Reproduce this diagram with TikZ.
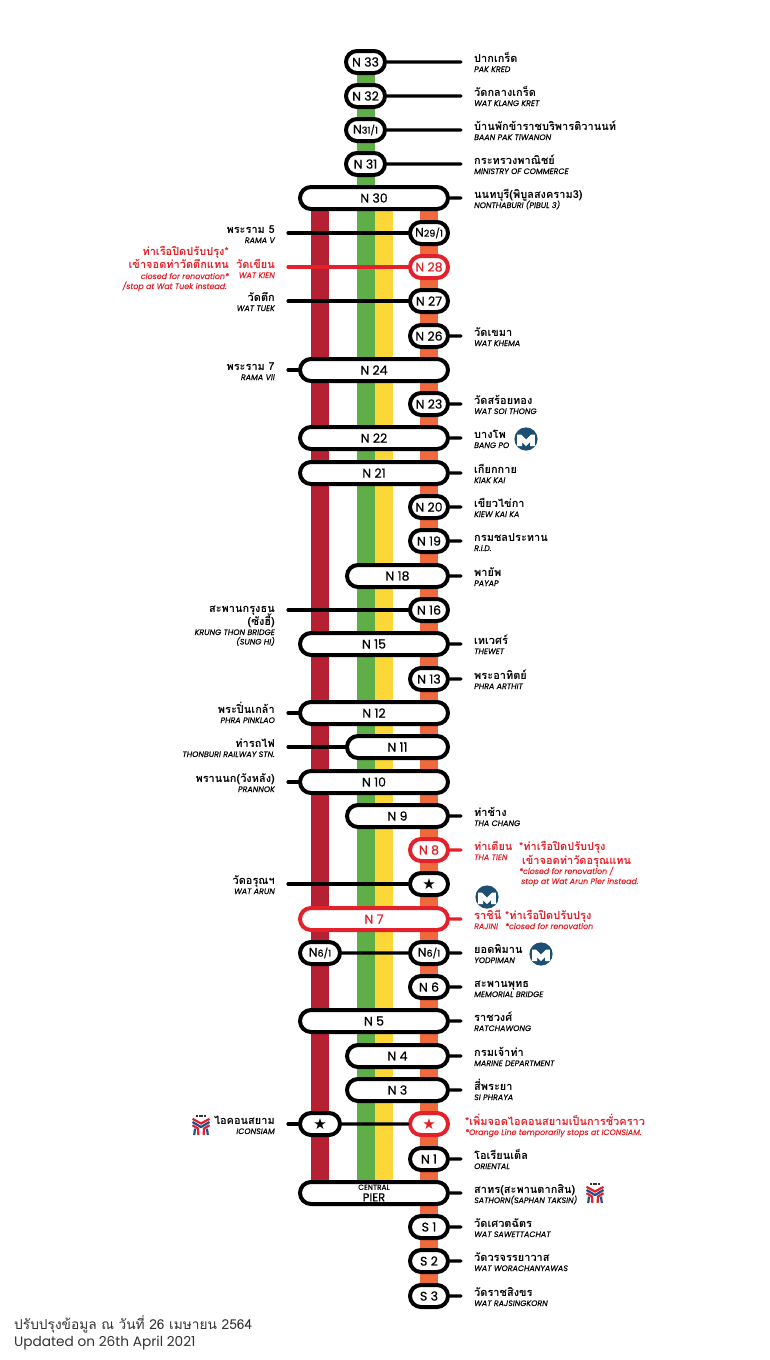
\documentclass[tikz,border=0pt]{standalone}
\usepackage{fontspec}
\usepackage{tikz}
\usetikzlibrary{shapes, shapes.misc, positioning, calc}

\setmainfont{Poppins}
\newfontfamily\thaifont[Script=Thai]{Loma}
\newfontfamily\pillfont[FakeBold=0.5]{Poppins}
\newfontfamily\symfont{DejaVu Sans}
\newcommand{\sm}[1]{{\fontsize{9.5}{10}\selectfont #1}}

\definecolor{lineRed}{HTML}{B52032}
\definecolor{lineGreen}{HTML}{5FAE47}
\definecolor{lineYellow}{HTML}{FBD737}
\definecolor{lineOrange}{HTML}{F0693D}
\definecolor{alert}{HTML}{E4202A}
\definecolor{metroBlue}{HTML}{1D4F73}
\definecolor{btsBlue}{HTML}{1F4E8C}
\definecolor{notegray}{HTML}{333333}

\tikzset{
  pill/.style={rounded rectangle, rounded rectangle arc length=180, draw=black, line width=4pt, fill=white, minimum height=22pt, inner sep=0pt, font=\pillfont\fontsize{12.5}{13}\selectfont},
  pillred/.style={pill, draw=alert, text=alert},
  bar/.style={line width=18pt},
  link/.style={line width=3.2pt, line cap=round},
  linkred/.style={link, draw=alert},
  lblth/.style={inner sep=0pt, font=\thaifont\bfseries\fontsize{11}{11}\selectfont},
  lblen/.style={inner sep=0pt, font=\itshape\addfontfeature{FakeBold=0.25}\fontsize{7.9}{8}\selectfont},
  metro/.pic={
    \fill[metroBlue] (0,0) circle (11.6);
    \fill[white] (-8.8,7.2) -- (-8.8,-4.5) -- (-5,-4.5) -- (0,0.5) -- (5,-4.5) -- (8.8,-4.5) -- (8.8,7.2) -- (4,7.2) -- (4,3) -- (0,7.2) -- (-4,3) -- (-4,7.2) -- cycle;
  },
  bts/.pic={
    \draw[notegray, line width=1.4pt, dash pattern=on 2pt off 0.6pt] (-5,-9.2) -- (5,-9.2);
    \draw[alert, line width=2.2pt] (-8.5,-6.2) -- (0,-1.5) -- (8.5,-6.2);
    \draw[btsBlue, line width=2.2pt] (-8.5,-3) -- (0,2) -- (8.5,-3);
    \draw[alert, line width=2.2pt] (-8.5,0.2) -- (-3,3.5) -- (-2.6,10);
    \draw[alert, line width=2.2pt] (8.5,0.2) -- (3,3.5) -- (2.6,10);
    \draw[btsBlue, line width=2.2pt] (-6.8,10) -- (-6,3.6);
    \draw[btsBlue, line width=2.2pt] (6.8,10) -- (6,3.6);
  }
}

\begin{document}
\begin{tikzpicture}[x=1pt, y=-1pt]
    \useasboundingbox (0,0) rectangle (769,1360);

    % Coloured lines go in first, the stops sit on top of them
    \coordinate (redTop) at (320,198);    \coordinate (redEnd) at (320,1180);
    \coordinate (greenTop) at (366,62);   \coordinate (greenEnd) at (366,1180);
    \coordinate (yellowTop) at (384,198); \coordinate (yellowEnd) at (384,1180);
    \coordinate (orangeTop) at (429,198); \coordinate (orangeEnd) at (429,1296);
    \draw[bar, lineRed] (redTop) -- (redEnd);
    \draw[bar, lineGreen] (greenTop) -- (greenEnd);
    \draw[bar, lineYellow] (yellowTop) -- (yellowEnd);
    \draw[bar, lineOrange] (orangeTop) -- (orangeEnd);

    % Stops: name/centre/width/row/style/text
    \foreach \id/\cx/\w/\y/\sty/\txt in {
        n33/365.5/39/62/pill/N 33, n32/365.5/39/96/pill/N 32,
        n311/365.5/39/130/pill/{N\sm{31/1}}, n31/365.5/39/164/pill/N 31,
        n30/374/148/198/pill/N 30, n291/429/38/233/pill/{N\sm{29/1}},
        n28/429/38/267/pillred/N 28, n27/429/38/301/pill/N 27,
        n26/429/38/336/pill/N 26, n24/374/148/370/pill/N 24,
        n23/429/38/404/pill/N 23, n22/374/148/438/pill/N 22,
        n21/374/148/473/pill/N 21, n20/429/38/507/pill/N 20,
        n19/429/38/541/pill/N 19, n18/397.5/101/576/pill/N 18,
        n16/429/38/610/pill/N 16, n15/374/148/644/pill/N 15,
        n13/429/38/679/pill/N 13, n12/374/148/713/pill/N 12,
        n11/397.5/101/747/pill/N 11, n10/374/148/782/pill/N 10,
        n9/397.5/101/816/pill/N 9, n8/429/38/850/pillred/N 8,
        arun/429/38/884/pill/{\symfont\fontsize{15}{15}\selectfont ★},
        n7/374/148/919/pillred/N 7, n61l/320/40/953/pill/{N\sm{6/1}},
        n61r/429/38/953/pill/{N\sm{6/1}}, n6/429/38/987/pill/N 6,
        n5/374/148/1021/pill/N 5, n4/397.5/101/1056/pill/N 4,
        n3/397.5/101/1090/pill/N 3, iconl/320/40/1124/pill/{\symfont\fontsize{15}{15}\selectfont ★},
        iconr/429/38/1124/pillred/{\symfont\fontsize{15}{15}\selectfont ★},
        n1/429/38/1159/pill/N 1, s1/429/38/1227/pill/S 1,
        s2/429/38/1261/pill/S 2, s3/429/38/1296/pill/S 3} {
        \node[\sty, minimum width=\w pt] (\id) at (\cx,\y) {\txt};
    }
    \node[pill, minimum width=148pt, align=center] (central) at (374,1193) {{\fontsize{7.4}{7}\selectfont CENTRAL}\\[-1.5pt]{\fontsize{11.5}{9}\selectfont PIER}};

    % Stops with their name on the right
    \foreach \id/\y/\nameth/\nameen in {
        n33/62/ปากเกร็ด/PAK KRED, n32/96/วัดกลางเกร็ด/WAT KLANG KRET,
        n311/130/บ้านพักข้าราชบริพารติวานนท์/BAAN PAK TIWANON, n31/164/กระทรวงพาณิชย์/MINISTRY OF COMMERCE,
        n30/198/นนทบุรี(พิบูลสงคราม3)/NONTHABURI (PIBUL 3), n26/336/วัดเขมา/WAT KHEMA,
        n23/404/วัดสร้อยทอง/WAT SOI THONG, n22/438/บางโพ/BANG PO,
        n21/473/เกียกกาย/KIAK KAI, n20/507/เขียวไข่กา/KIEW KAI KA,
        n19/541/กรมชลประทาน/R.I.D., n18/576/พายัพ/PAYAP,
        n15/644/เทเวศร์/THEWET, n13/679/พระอาทิตย์/PHRA ARTHIT,
        n9/816/ท่าช้าง/THA CHANG, n61r/953/ยอดพิมาน/YODPIMAN,
        n6/987/สะพานพุทธ/MEMORIAL BRIDGE, n5/1021/ราชวงศ์/RATCHAWONG,
        n4/1056/กรมเจ้าท่า/MARINE DEPARTMENT, n3/1090/สี่พระยา/SI PHRAYA,
        n1/1159/โอเรียนเต็ล/ORIENTAL, central/1193/สาทร(สะพานตากสิน)/SATHORN(SAPHAN TAKSIN),
        s1/1227/วัดเศวตฉัตร/WAT SAWETTACHAT, s2/1261/วัดวรจรรยาวาส/WAT WORACHANYAWAS,
        s3/1296/วัดราชสิงขร/WAT RAJSINGKORN} {
        \coordinate (\id-r) at (461,\y);
        \draw[link] (\id) -- (\id-r);
        \node[lblth, anchor=base west] (\id-th) at (474,\y) {\nameth};
        \node[lblen, anchor=base west] (\id-en) at (474,\y+10) {\nameen};
    }

    % Stops with their name on the left
    \foreach \id/\y in {n291/233, n27/301, n24/370, n16/610, n12/713, n11/747, n10/782, arun/884, iconl/1124} {
        \coordinate (\id-l) at (288,\y);
        \draw[link] (\id) -- (\id-l);
    }
    \node[lblth, anchor=base east] (n291-th) at (275,233) {พระราม 5};
    \node[lblen, anchor=base east] (n291-en) at (275,243) {RAMA V};
    \node[lblth, anchor=base east] (n27-th) at (275,301) {วัดตึก};
    \node[lblen, anchor=base east] (n27-en) at (275,311) {WAT TUEK};
    \node[lblth, anchor=base east] (n24-th) at (275,370) {พระราม 7};
    \node[lblen, anchor=base east] (n24-en) at (275,380) {RAMA VII};
    \node[lblth, anchor=base east] (n16-th) at (275,612) {สะพานกรุงธน};
    \node[lblth, anchor=base east] (n16-th2) at (275,625) {(ซังฮี้)};
    \node[lblen, anchor=base east] (n16-en) at (275,635) {KRUNG THON BRIDGE};
    \node[lblen, anchor=base east] (n16-en2) at (275,644.5) {(SUNG HI)};
    \node[lblth, anchor=base east] (n12-th) at (275,713) {พระปิ่นเกล้า};
    \node[lblen, anchor=base east] (n12-en) at (275,723) {PHRA PINKLAO};
    \node[lblth, anchor=base east] (n11-th) at (275,747) {ท่ารถไฟ};
    \node[lblen, anchor=base east] (n11-en) at (275,757) {THONBURI RAILWAY STN.};
    \node[lblth, anchor=base east] (n10-th) at (275,782) {พรานนก(วังหลัง)};
    \node[lblen, anchor=base east] (n10-en) at (275,792) {PRANNOK};
    \node[lblth, anchor=base east] (arun-th) at (275,884) {วัดอรุณฯ};
    \node[lblen, anchor=base east] (arun-en) at (275,894) {WAT ARUN};
    \node[lblth, anchor=base east] (iconl-th) at (275,1124) {ไอคอนสยาม};
    \node[lblen, anchor=base east] (iconl-en) at (275,1134) {ICONSIAM};

    % Joined stops
    \draw[link] (n61l) -- (n61r);
    \draw[link] (iconl) -- (iconr);

    % Closed piers, in red
    \coordinate (n28-l) at (288,267);
    \draw[linkred] (n28) -- (n28-l);
    \node[lblth, text=alert, anchor=base east] (n28-th) at (275,268) {วัดเขียน};
    \node[lblen, text=alert, anchor=base east] (n28-en) at (275,278) {WAT KIEN};
    \node[lblth, text=alert, anchor=base east] (n28-a) at (229,255) {ท่าเรือปิดปรับปรุง*};
    \node[lblth, text=alert, anchor=base east] (n28-b) at (229,268) {เข้าจอดท่าวัดตึกแทน};
    \node[lblen, text=alert, anchor=base east] (n28-c) at (229,279) {closed for renovation*};
    \node[lblen, text=alert, anchor=base east] (n28-d) at (227,289) {/stop at Wat Tuek instead.};

    \coordinate (n8-r) at (461,850);
    \draw[linkred] (n8) -- (n8-r);
    \node[lblth, text=alert, anchor=base west] (n8-th) at (474,850) {ท่าเตียน};
    \node[lblen, text=alert, anchor=base west] (n8-en) at (474,860) {THA TIEN};
    \node[lblth, text=alert, anchor=base west] (n8-a) at (519,850) {*ท่าเรือปิดปรับปรุง};
    \node[lblth, text=alert, anchor=base west] (n8-b) at (522,864) {เข้าจอดท่าวัดอรุณแทน};
    \node[lblen, text=alert, anchor=base west] (n8-c) at (519,874) {*closed for renovation /};
    \node[lblen, text=alert, anchor=base west] (n8-d) at (521,884) {stop at Wat Arun Pier instead.};

    \coordinate (n7-r) at (461,919);
    \draw[linkred] (n7) -- (n7-r);
    \node[lblth, text=alert, anchor=base west] (n7-th) at (474,919) {ราชินี};
    \node[lblen, text=alert, anchor=base west] (n7-en) at (474,929) {RAJINI};
    \node[lblth, text=alert, anchor=base west] (n7-a) at (505,919) {*ท่าเรือปิดปรับปรุง};
    \node[lblen, text=alert, anchor=base west] (n7-b) at (505,929) {*closed for renovation};

    \node[lblth, text=alert, anchor=base west] (iconr-a) at (465,1125) {*เพิ่มจอดไอคอนสยามเป็นการชั่วคราว};
    \node[lblen, text=alert, anchor=base west] (iconr-b) at (465,1135) {*Orange Line temporarily stops at ICONSIAM.};

    % Transfer logos
    \pic at (526,439) {metro};
    \pic at (487,897) {metro};
    \pic at (541,954) {metro};
    \pic at (201,1125) {bts};
    \pic at (595,1193) {bts};

    % Date of the map
    \node[inner sep=0pt, anchor=base west, text=notegray, font=\thaifont\fontsize{13.7}{14}\selectfont] (date-th) at (14,1329) {ปรับปรุงข้อมูล ณ วันที่ 26 เมษายน 2564};
    \node[inner sep=0pt, anchor=base west, text=notegray, font=\fontsize{13.7}{14}\selectfont] (date-en) at (14,1346) {Updated on 26th April 2021};
\end{tikzpicture}
\end{document}
